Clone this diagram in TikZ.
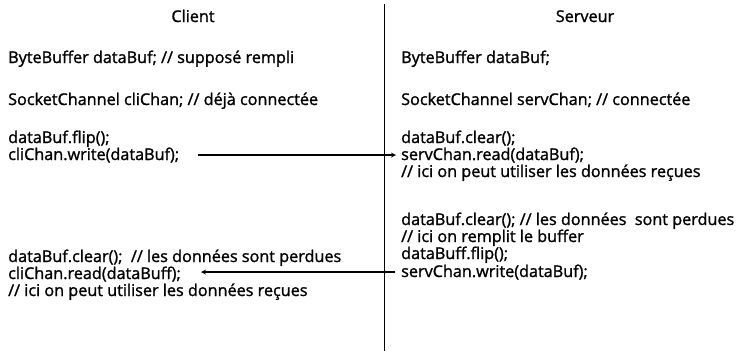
\documentclass[tikz,border=0pt]{standalone}
\usepackage{fontspec}
\setmainfont{Open Sans}[UprightFeatures={FakeBold=1.3}]

\begin{document}
\begin{tikzpicture}[x=1pt,y=-1pt,font=\fontsize{16.2}{17}\selectfont]
\tikzset{
% one line of code, set from its baseline
code line/.style={anchor=base west,inner sep=2pt},
head line/.style={anchor=base,inner sep=2pt},
flow/.style={-stealth,line width=1.2pt}
}
\useasboundingbox (0,0) rectangle (742,351);
% Titles
\node(cli)[head line] at (193,22) {Client};
\node(serv)[head line] at (585,22) {Serveur};
% The separator
\coordinate(top) at (384,4);
\coordinate(bot) at (384,351);
\draw[line width=0.8pt] (top) -- (bot);
% Client side
\node(cbuf)[code line] at (6,63) {ByteBuffer dataBuf; // supposé rempli};
\node(cchan)[code line] at (6,105) {SocketChannel cliChan; // déjà connectée};
\node(cflip)[code line] at (6,143) {dataBuf.flip();};
\node(cwrite)[code line] at (6,160) {cliChan.write(dataBuf);};
\node(cclear)[code line] at (6,262) {dataBuf.clear();\ \ // les données sont perdues};
\node(cread)[code line] at (6,279) {cliChan.read(dataBuff);};
\node(cuse)[code line] at (6,296) {// ici on peut utiliser les données reçues};
% Server side
\node(sbuf)[code line] at (399,63) {ByteBuffer dataBuf;};
\node(schan)[code line] at (399,105) {SocketChannel servChan; // connectée};
\node(sclear)[code line] at (399,143) {dataBuf.clear();};
\node(sread)[code line] at (399,160) {servChan.read(dataBuf);};
\node(suse)[code line] at (399,177) {// ici on peut utiliser les données reçues};
\node(sclear2)[code line] at (399,225) {dataBuf.clear(); // les données\ \ sont perdues};
\node(sfill)[code line] at (399,242) {// ici on remplit le buffer};
\node(sflip)[code line] at (399,259) {dataBuff.flip();};
\node(swrite)[code line] at (399,277) {servChan.write(dataBuf);};
% Messages
\draw[flow] ([xshift=17pt]cwrite.east) -- ([xshift=-3pt]sread.west);
\draw[flow] ([xshift=-4pt]swrite.west) -- ([xshift=18pt]swrite.west -| cread.east);
\end{tikzpicture}
\end{document}
